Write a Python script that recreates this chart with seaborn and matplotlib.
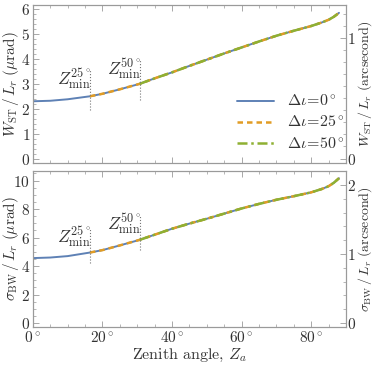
import numpy as np
import pandas as pd
import seaborn as sns
import matplotlib.pyplot as plt
from matplotlib.ticker import MultipleLocator, FuncFormatter

# zenith angle (deg) and curves
zenith = [0, 5, 10, 16.4, 20, 25, 30.7, 35, 40, 45, 50, 55, 60, 65, 70, 75, 80, 83, 85, 86.5, 88]
w_st = [2.30, 2.32, 2.38, 2.50, 2.60, 2.78, 3.00, 3.22, 3.46, 3.72, 3.97, 4.22, 4.46, 4.70, 4.93,
        5.13, 5.32, 5.46, 5.57, 5.69, 5.85]
sigma_bw = [4.56, 4.60, 4.70, 4.95, 5.12, 5.45, 5.84, 6.20, 6.62, 6.98, 7.32, 7.68, 8.04, 8.36, 8.65,
            8.90, 9.17, 9.40, 9.60, 9.84, 10.16]

delta_iota = [0, 25, 50]
z_min = [0, 16.4, 30.7]
labels = [r'$\Delta\iota\!=\!0^\circ$', r'$\Delta\iota\!=\!25^\circ$', r'$\Delta\iota\!=\!50^\circ$']
colors = ['#5e81b5', '#e19c24', '#8fb032']
styles = ['-', (0, (2.2, 1.6)), (0, (4, 1.5, 1, 1.5))]

URAD_PER_ARCSEC = 4.8481

df = pd.DataFrame({'z': zenith, 'w': w_st, 's': sigma_bw})

sns.set_style('ticks')
plt.rcParams['font.family'] = 'serif'
plt.rcParams['font.serif'] = ['cmr10']
plt.rcParams['mathtext.fontset'] = 'cm'
plt.rcParams['axes.formatter.use_mathtext'] = True
plt.rcParams['font.size'] = 11

fig = plt.figure(figsize=(3.74, 3.65), dpi=100)
ax1 = fig.add_axes([0.088, 0.554, 0.837, 0.432])
ax2 = fig.add_axes([0.088, 0.103, 0.837, 0.429])

spine_col = '#9a9a9a'
txt_col = '#333333'


def style_axes(ax, right=False):
    for s in ax.spines.values():
        s.set_color(spine_col)
        s.set_linewidth(0.8)
        s.set_visible(True)
    ax.tick_params(which='both', direction='in', colors=spine_col, labelcolor=txt_col,
                   labelsize=11, pad=1 if right else 2, top=not right, left=not right,
                   right=right, bottom=not right)
    ax.tick_params(which='major', length=4, width=0.6)
    ax.tick_params(which='minor', length=2, width=0.5)


for ax, col, ylim, ymaj, ymin_step, rmin_step, zmarks, name in [
        (ax1, 'w', (-0.17, 6.16), 1, 0.2, 0.1,
         [(1.94, 3.55, 3.2), (2.34, 3.98, 3.62)], r'W_{\rm ST}'),
        (ax2, 's', (-0.3, 10.68), 2, 0.5, 0.2,
         [(4.2, 6.66, 6.1), (5.14, 7.6, 7.0)], r'\sigma_{\rm BW}')]:
    for zm, lab, c, ls in zip(z_min, labels, colors, styles):
        sub = df[df['z'] >= zm]
        sns.lineplot(data=sub, x='z', y=col, ax=ax, color=c, linestyle=ls,
                     lw=1.4 if ls == '-' else 1.8, label=lab, sort=False)
    for (lo, hi, ty), zm, d in zip(zmarks, z_min[1:], delta_iota[1:]):
        ax.plot([zm, zm], [lo, hi], color='#777777', ls=':', lw=0.8)
        ax.text(zm + 0.3, ty, r'$Z^{%d^\circ}_{\rm min}$' % d, ha='right', va='center',
                fontsize=12.5, color=txt_col)
    ax.set_xlim(0, 90)
    ax.set_ylim(*ylim)
    ax.xaxis.set_major_locator(MultipleLocator(20))
    ax.xaxis.set_minor_locator(MultipleLocator(5))
    ax.yaxis.set_major_locator(MultipleLocator(ymaj))
    ax.yaxis.set_minor_locator(MultipleLocator(ymin_step))
    ax.set_ylabel(r'$%s\,/\,L_r\ (\mu{\rm rad})$' % name, fontsize=11, color=txt_col)
    ax.yaxis.set_label_coords(-0.038, 0.5)
    style_axes(ax)

    axr = ax.twinx()
    axr.set_ylim(ylim[0] / URAD_PER_ARCSEC, ylim[1] / URAD_PER_ARCSEC)
    axr.yaxis.set_major_locator(MultipleLocator(1))
    axr.yaxis.set_minor_locator(MultipleLocator(rmin_step))
    axr.set_ylabel(r'$%s\,/\,L_r\ ({\rm arcsecond})$' % name, fontsize=10, color=txt_col)
    axr.yaxis.set_label_coords(1.033, 0.5)
    style_axes(axr, right=True)

ax1.set_xlabel('')
ax1.tick_params(labelbottom=False)
ax2.xaxis.set_major_formatter(FuncFormatter(lambda v, p: r'$%d^\circ$' % v))
ax2.set_xlabel(r'Zenith angle, $Z_a$', fontsize=11.5, color=txt_col, labelpad=1)

ax2.get_legend().remove()
leg = ax1.legend(loc='center left', bbox_to_anchor=(0.652, 0.255), frameon=False,
                 handlelength=2.3, handletextpad=0.85, labelspacing=0.35, borderpad=0,
                 borderaxespad=0, fontsize=11.5)
for t in leg.get_texts():
    t.set_color(txt_col)

fig.savefig('out.png', dpi=100)
